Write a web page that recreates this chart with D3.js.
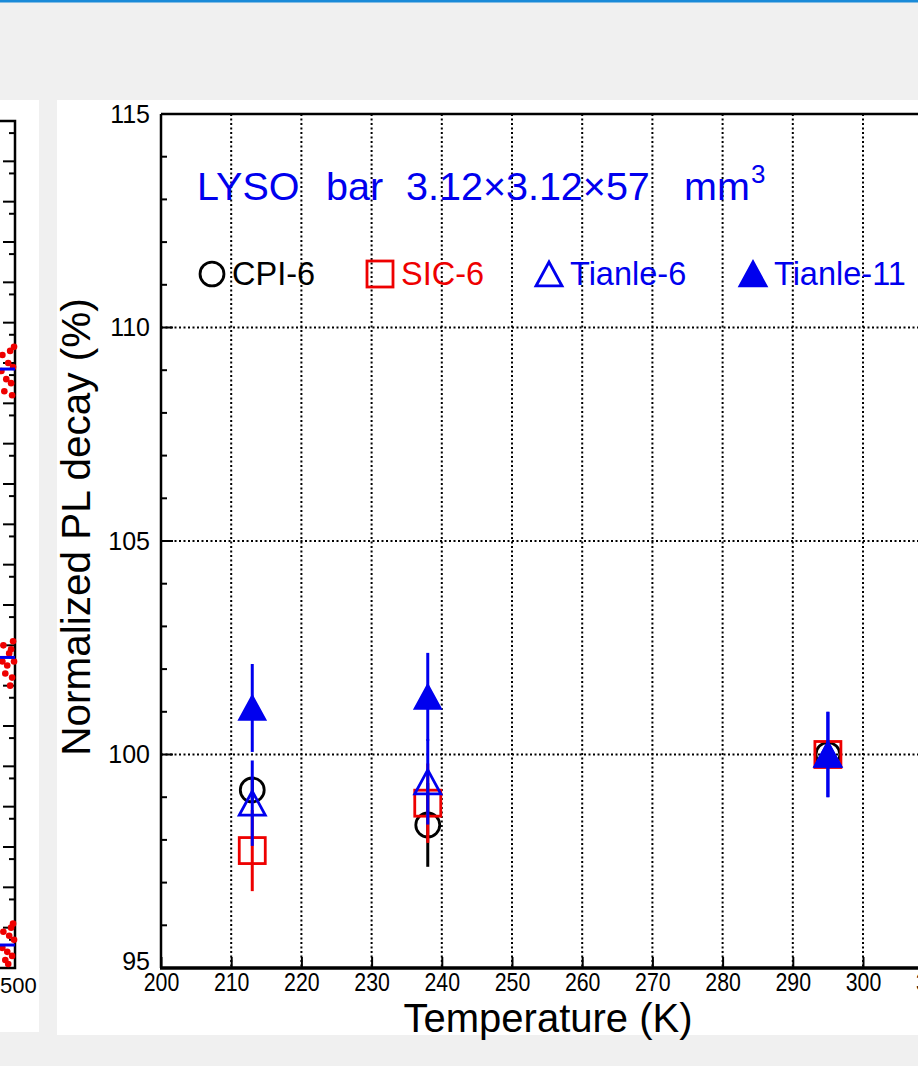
<!DOCTYPE html>
<html>
<head>
<meta charset="utf-8">
<script src="https://cdn.jsdelivr.net/npm/d3@7"></script>
<style>
  body { margin: 0; background: #f0f0f0; overflow: hidden; }
  svg { display: block; font-family: "Liberation Sans", Arial, sans-serif; }
</style>
</head>
<body>
<svg id="chart" width="918" height="1066"></svg>
<script>
// temperatures (K) and normalized PL decay (%) with errors
const temps = [213, 238, 295]
const cpi6 = [99.17, 98.35, 100.0]
const cpi6Err = [0.3, 0.98, 0.3]
const sic6 = [97.75, 98.86, 100.0]
const sic6Err = [0.95, 0.93, 0.3]
const tianle6 = [98.86, 99.36, 100.0]
const tianle6Err = [1.0, 1.0, 1.0]
const tianle11 = [101.09, 101.35, 100.0]
const tianle11Err = [1.03, 1.03, 1.0]

const xTicks = [200, 210, 220, 230, 240, 250, 260, 270, 280, 290, 300, 310]
const yTicks = [95, 100, 105, 110, 115]
const yGrid = [100, 105, 110]

// sliver of the neighbouring panel on the left
const leftLevels = [14.85, 7.7, 0.57]
const leftDots = [
  [487, 15.2], [491, 14.6], [495, 15.3], [498, 14.9], [489, 14.3], [496, 14.5], [493, 15.0], [499, 15.4], [486, 14.8], [497, 14.2],
  [488, 8.0], [492, 7.5], [496, 7.9], [499, 7.6], [490, 7.3], [497, 7.2], [494, 7.8], [487, 7.6], [498, 8.1], [495, 7.0],
  [488, 0.9], [492, 0.4], [496, 1.0], [499, 0.7], [490, 0.2], [497, 0.3], [494, 0.8], [487, 0.5], [498, 1.1], [493, 0.1]
]

const series = [
  { name: "CPI-6", vals: cpi6, err: cpi6Err, color: "#000000", shape: "circle" },
  { name: "SIC-6", vals: sic6, err: sic6Err, color: "#ee0000", shape: "square" },
  { name: "Tianle-6", vals: tianle6, err: tianle6Err, color: "#0000ee", shape: "tri" },
  { name: "Tianle-11", vals: tianle11, err: tianle11Err, color: "#0000ee", shape: "trifill" }
]

const svg = d3.select("#chart")

// page furniture
svg.append("rect").attr("x", 0).attr("y", 0).attr("width", 918).attr("height", 2.5).attr("fill", "#1a8ad8")
svg.append("rect").attr("x", 0).attr("y", 100).attr("width", 39).attr("height", 932).attr("fill", "#fff")
svg.append("rect").attr("x", 57).attr("y", 100).attr("width", 861).attr("height", 935).attr("fill", "#fff")

// ---- left sliver panel
const lx = d3.scaleLinear().domain([0, 500]).range([-470, 15])
const ly = d3.scaleLinear().domain([0, 21]).range([968, 121])
const lg = svg.append("g")
lg.append("path").attr("d", `M0,${ly(21)}H${lx(500)}V${ly(0)}H0`)
  .attr("fill", "none").attr("stroke", "#000").attr("stroke-width", 2.5)
d3.range(0, 21).forEach(k => {
  lg.append("line").attr("x1", lx(500) - 12).attr("x2", lx(500)).attr("y1", ly(k)).attr("y2", ly(k))
    .attr("stroke", "#000").attr("stroke-width", 2)
  lg.append("line").attr("x1", lx(500) - 6).attr("x2", lx(500)).attr("y1", ly(k + 0.7)).attr("y2", ly(k + 0.7))
    .attr("stroke", "#000").attr("stroke-width", 2)
})
lg.selectAll(".ld").data(leftDots).enter().append("circle")
  .attr("cx", d => lx(d[0])).attr("cy", d => ly(d[1])).attr("r", 3.3).attr("fill", "#ee0000")
lg.selectAll(".ll").data(leftLevels).enter().append("line")
  .attr("x1", 0).attr("x2", lx(500)).attr("y1", d => ly(d)).attr("y2", d => ly(d))
  .attr("stroke", "#0000ee").attr("stroke-width", 3)
lg.append("text").attr("x", 0).attr("y", 993).attr("text-anchor", "start")
  .attr("font-size", 22).text("500")

// ---- main panel
const x = d3.scaleLinear().domain([200, 320]).range([161, 161 + 120 * 7.02])
const y = d3.scaleLinear().domain([95, 115]).range([968, 114])
const g = svg.append("g")

// dotted grid
g.selectAll(".vg").data(xTicks.slice(1)).enter().append("line")
  .attr("x1", d => x(d)).attr("x2", d => x(d)).attr("y1", y(115)).attr("y2", y(95))
  .attr("stroke", "#000").attr("stroke-width", 2).attr("stroke-dasharray", "2,2.5")
g.selectAll(".hg").data(yGrid).enter().append("line")
  .attr("x1", x(200)).attr("x2", 918).attr("y1", d => y(d)).attr("y2", d => y(d))
  .attr("stroke", "#000").attr("stroke-width", 2).attr("stroke-dasharray", "2,2.5")

// axes
const xAxis = g.append("g").attr("transform", `translate(0,${y(95)})`)
  .call(d3.axisBottom(x).tickValues(xTicks).tickSize(0).tickPadding(5))
xAxis.select(".domain").remove()
xAxis.selectAll("text").attr("font-size", 26).attr("fill", "#000")
  .attr("font-family", "'Liberation Sans', Arial").attr("transform", "scale(0.82,1)")
xAxis.selectAll(".tick").append("line").attr("y1", 0).attr("y2", -11).attr("stroke", "#000").attr("stroke-width", 2)

const yAxis = g.append("g").attr("transform", `translate(${x(200)},0)`)
  .call(d3.axisLeft(y).tickValues(yTicks).tickSize(0).tickPadding(11))
yAxis.select(".domain").remove()
yAxis.selectAll("text").attr("font-size", 25).attr("fill", "#000").attr("font-family", "'Liberation Sans', Arial")
yAxis.selectAll(".tick").filter(d => d === 95).select("text").attr("dy", "0.05em")
d3.range(96, 115).forEach(v => {
  g.append("line").attr("x1", x(200)).attr("x2", x(200) + (v % 5 === 0 ? 12 : 6))
    .attr("y1", y(v)).attr("y2", y(v)).attr("stroke", "#000").attr("stroke-width", 2)
})

g.append("line").attr("x1", x(200)).attr("x2", 918).attr("y1", y(115)).attr("y2", y(115))
  .attr("stroke", "#000").attr("stroke-width", 2.5)
g.append("line").attr("x1", x(200)).attr("x2", x(200)).attr("y1", y(115)).attr("y2", y(95))
  .attr("stroke", "#000").attr("stroke-width", 2.5)
g.append("line").attr("x1", x(200) - 1).attr("x2", 918).attr("y1", y(95)).attr("y2", y(95))
  .attr("stroke", "#000").attr("stroke-width", 3.5)

// axis titles
svg.append("text").attr("x", 548).attr("y", 1032).attr("text-anchor", "middle")
  .attr("font-size", 40).text("Temperature (K)")
svg.append("text").attr("transform", "translate(90,527) rotate(-90)").attr("text-anchor", "middle")
  .attr("font-size", 40.5).text("Normalized PL decay (%)")

// markers
function marker(sel, shape, color, cx, cy, s) {
  if (shape === "circle") {
    sel.append("circle").attr("cx", cx).attr("cy", cy).attr("r", s * 0.46)
      .attr("fill", "none").attr("stroke", color).attr("stroke-width", 2.8)
  } else if (shape === "square") {
    sel.append("rect").attr("x", cx - s / 2).attr("y", cy - s / 2).attr("width", s).attr("height", s)
      .attr("fill", "none").attr("stroke", color).attr("stroke-width", 2.8)
  } else {
    const h = s * 0.92
    sel.append("path")
      .attr("d", `M${cx},${cy - h / 2}L${cx + s / 2},${cy + h / 2}L${cx - s / 2},${cy + h / 2}Z`)
      .attr("fill", shape === "trifill" ? color : "none").attr("stroke", color).attr("stroke-width", 2.8)
      .attr("stroke-linejoin", "miter")
  }
}

series.forEach(s => {
  const sg = g.append("g")
  temps.forEach((t, i) => {
    sg.append("line").attr("x1", x(t)).attr("x2", x(t))
      .attr("y1", y(s.vals[i] - s.err[i])).attr("y2", y(s.vals[i] + s.err[i]))
      .attr("stroke", s.color).attr("stroke-width", 3)
    marker(sg, s.shape, s.color, x(t), y(s.vals[i]), s.shape === "trifill" ? 25 : 26)
  })
})

// title and legend
svg.append("text").attr("y", 200).attr("font-size", 39.5).attr("fill", "#0000ee")
  .call(t => {
    t.append("tspan").attr("x", 197).text("LYSO")
    t.append("tspan").attr("x", 326).text("bar")
    t.append("tspan").attr("x", 406).text("3.12×3.12×57")
    t.append("tspan").attr("x", 684).text("mm")
    t.append("tspan").attr("x", 751).attr("dy", -17).attr("font-size", 26).text("3")
  })

const legendX = [212, 380, 549, 753]
series.forEach((s, i) => {
  marker(svg, s.shape, s.color, legendX[i], 274, 26)
  svg.append("text").attr("x", legendX[i] + (i === 0 ? 20 : 21)).attr("y", 285)
    .attr("font-size", 32.5).attr("fill", s.color).text(s.name)
})
</script>
</body>
</html>
